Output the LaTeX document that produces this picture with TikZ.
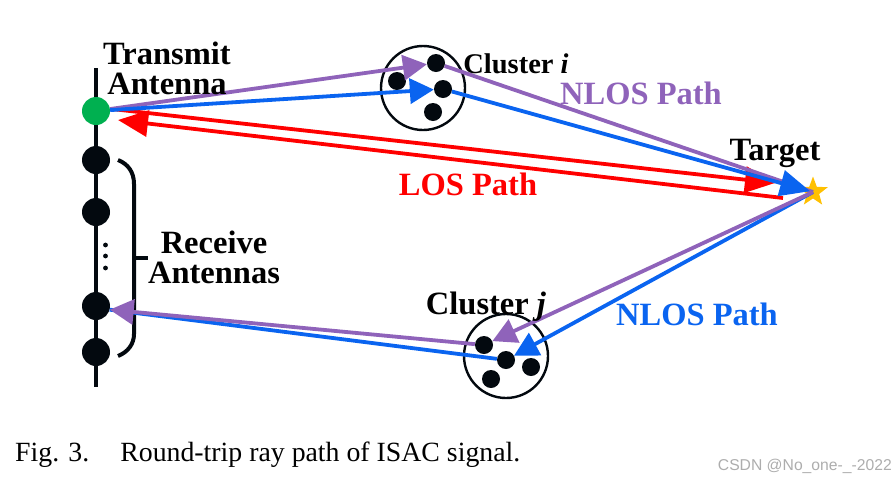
\documentclass[tikz,border=0pt]{standalone}
\usepackage{fontspec}
\setmainfont{Liberation Serif}
\setsansfont{Liberation Sans}
\usetikzlibrary{arrows.meta}
\usetikzlibrary{shapes.geometric}
\definecolor{raypurple}{HTML}{8F63BA}
\definecolor{rayblue}{HTML}{0A64F0}
\definecolor{rayred}{HTML}{FF0000}
\definecolor{antgreen}{HTML}{00B050}
\definecolor{stargold}{HTML}{FFC000}
\definecolor{dotblack}{HTML}{03090F}
\tikzset{
    antenna/.style={circle,fill=dotblack,minimum size=28,inner sep=0},
    scatter/.style={circle,fill=dotblack,minimum size=18,inner sep=0},
    cluster/.style={circle,draw=dotblack,line width=2.4pt,minimum size=84,inner sep=0},
    ray/.style={line width=3.8pt},
    rayhead/.style={-{Triangle[length=24,width=25]}},
    bighead/.style={-{Triangle[length=30,width=26]}},
    lbl/.style={font=\bfseries\fontsize{32.5}{30}\selectfont,inner sep=0,align=center},
}
\begin{document}
\begin{tikzpicture}[x=1pt,y=-1pt]
\useasboundingbox (0,0) rectangle (896,480);

\coordinate (mastTop) at (96,68);
\coordinate (mastEnd) at (96,387);
\draw[line width=3.4pt,dotblack] (mastTop) -- (mastEnd);

\node (tx) at (96,111) [antenna,fill=antgreen] {};
\node (rx1) at (96,160) [antenna] {};
\node (rx2) at (96,212) [antenna] {};
\node (rx3) at (96,306) [antenna] {};
\node (rx4) at (96,352) [antenna] {};
\fill[dotblack] (105.5,245) circle (2.4);
\fill[dotblack] (105.5,256) circle (2.4);
\fill[dotblack] (105.5,268) circle (2.4);

\draw[line width=4pt,dotblack] (118,160) .. controls (128,164) and (134,172) .. (134,184)
    -- (134,334) .. controls (134,344) and (128,352) .. (118,356);
\draw[line width=4pt,dotblack] (134,258) -- (148,258);

\node (ci) at (423,88) [cluster] {};
\node (ci1) at (436,63) [scatter] {};
\node (ci2) at (397,81) [scatter] {};
\node (ci3) at (443,89) [scatter] {};
\node (ci4) at (433,112) [scatter] {};

\node (cj) at (506,356) [cluster] {};
\node (cj1) at (484,345) [scatter] {};
\node (cj2) at (506,360) [scatter] {};
\node (cj3) at (531,367) [scatter] {};
\node (cj4) at (491,379) [scatter] {};

\node (tgt) at (813,192) [star,star points=5,star point ratio=2.4,fill=stargold,
    minimum size=31,inner sep=0] {};

\coordinate (losOutA) at (112,109);
\coordinate (losOutB) at (775,183);
\coordinate (losBackA) at (783,198);
\coordinate (losBackB) at (118,120);
\draw[ray,rayred,bighead] (losOutA) -- (losOutB);
\draw[ray,rayred,bighead] (losBackA) -- (losBackB);

\draw[ray,raypurple,rayhead] (tx) -- (ci1);
\draw[ray,rayblue,rayhead] (tx) -- (ci3);
\draw[ray,raypurple] (ci1) -- (tgt.center);
\draw[ray,rayblue,bighead,shorten >=3] (ci3) -- (tgt.center);

\draw[ray,rayblue,rayhead] (tgt.center) -- (cj2);
\draw[ray,raypurple,rayhead] (tgt.center) -- (cj1);
\draw[ray,rayblue] (cj2) -- (rx3.-15);
\draw[ray,raypurple,rayhead] (cj1) -- (rx3.-15);

\node (txlbl) at (167,68) [lbl] {Transmit\\Antenna};
\node (rxlbl) at (214,257) [lbl] {Receive\\Antennas};
\node (cilbl) at (516,64) [lbl,font=\bfseries\fontsize{28.5}{30}\selectfont] {Cluster \textit{i}};
\node (cjlbl) at (486,307) [lbl] {Cluster \textit{j}};
\node (tgtlbl) at (775,153) [lbl] {Target};
\node (nlosa) at (641,93) [lbl,raypurple] {NLOS Path};
\node (nlosb) at (697,314) [lbl,rayblue] {NLOS Path};
\node (los) at (468,184) [lbl,rayred] {LOS Path};

\node (cap) at (15,455) [anchor=west,inner sep=0,font=\fontsize{27.8}{28}\selectfont]
    {Fig. 3.\hspace{31pt}Round-trip ray path of ISAC signal.};
\node (mark) at (892,466) [anchor=east,inner sep=0,text=black!32,
    font=\sffamily\fontsize{15.7}{17}\selectfont] {CSDN @No\_one-\_-2022};
\end{tikzpicture}
\end{document}
